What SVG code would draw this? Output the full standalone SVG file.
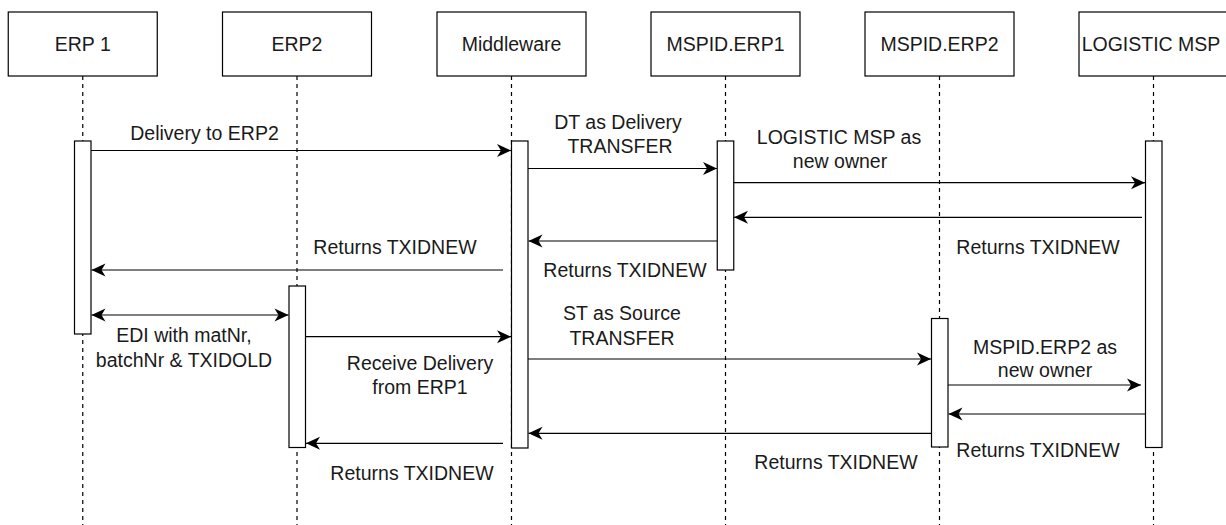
<svg xmlns="http://www.w3.org/2000/svg" width="1226" height="525" viewBox="0 0 1226 525">
<style>
.box{fill:#fff;stroke:#000;stroke-width:1.2}
.life{stroke:#000;stroke-width:1.2;stroke-dasharray:4 4;fill:none}
.act{fill:#fff;stroke:#000;stroke-width:1.2}
.msg{stroke:#000;stroke-width:1.2;fill:none}
.arr{marker-end:url(#ah)}
.both{marker-start:url(#ahs);marker-end:url(#ah)}
text{font-family:"Liberation Sans",Arial,sans-serif;font-size:19.5px;fill:#1a1a1a;text-anchor:middle}
</style>
<defs>
<marker id="ah" markerUnits="userSpaceOnUse" viewBox="-15 -7 16 14" refX="0" refY="0" markerWidth="16" markerHeight="14" orient="auto">
<path d="M0,0 L-14,-6.5 L-10,0 L-14,6.5 Z" fill="#000"/>
</marker>
<marker id="ahs" markerUnits="userSpaceOnUse" viewBox="-1 -7 16 14" refX="0" refY="0" markerWidth="16" markerHeight="14" orient="auto">
<path d="M0,0 L14,-6.5 L10,0 L14,6.5 Z" fill="#000"/>
</marker>
</defs>

<g id="lifelines">
<line class="life" x1="82.75" y1="76" x2="82.75" y2="525"/>
<line class="life" x1="297" y1="76" x2="297" y2="525"/>
<line class="life" x1="511.5" y1="76" x2="511.5" y2="525"/>
<line class="life" x1="725.5" y1="76" x2="725.5" y2="525"/>
<line class="life" x1="939.5" y1="76" x2="939.5" y2="525"/>
<line class="life" x1="1153.5" y1="76" x2="1153.5" y2="525"/>
</g>

<g id="erp1">
<rect class="box" x="8.25" y="12" width="149" height="64"/>
<text x="82.75" y="51">ERP 1</text>
<rect class="act" x="74.5" y="141" width="16.5" height="193"/>
</g>
<g id="erp2">
<rect class="box" x="222.5" y="12" width="149" height="64"/>
<text x="297" y="51">ERP2</text>
<rect class="act" x="289" y="286" width="16.5" height="161.5"/>
</g>
<g id="middleware">
<rect class="box" x="437" y="12" width="149" height="64"/>
<text x="511.5" y="51">Middleware</text>
<rect class="act" x="511.5" y="141" width="16.5" height="307"/>
</g>
<g id="mspid-erp1">
<rect class="box" x="651" y="12" width="149" height="64"/>
<text x="725.5" y="51">MSPID.ERP1</text>
<rect class="act" x="717.25" y="141" width="16.5" height="129"/>
</g>
<g id="mspid-erp2">
<rect class="box" x="865" y="12" width="149" height="64"/>
<text x="939.5" y="51">MSPID.ERP2</text>
<rect class="act" x="931.5" y="318.5" width="16.5" height="128.5"/>
</g>
<g id="logistic-msp">
<rect class="box" x="1079" y="12" width="149" height="64"/>
<text x="1151" y="51">LOGISTIC MSP</text>
<rect class="act" x="1145.5" y="141" width="16.5" height="306.5"/>
</g>

<g id="connectors">
<line class="msg arr" x1="91" y1="150.5" x2="511" y2="150.5"/>
<line class="msg arr" x1="528" y1="168.5" x2="717" y2="168.5"/>
<line class="msg arr" x1="733.75" y1="182.7" x2="1145" y2="182.7"/>
<line class="msg arr" x1="1142" y1="217.3" x2="734" y2="217.3"/>
<line class="msg arr" x1="717" y1="241" x2="528.5" y2="241"/>
<line class="msg arr" x1="503" y1="270" x2="91.5" y2="270"/>
<line class="msg both" x1="91.5" y1="315" x2="288.5" y2="315"/>
<line class="msg arr" x1="305.5" y1="336.7" x2="511" y2="336.7"/>
<line class="msg arr" x1="528" y1="359" x2="931" y2="359"/>
<line class="msg arr" x1="948" y1="385" x2="1141" y2="385"/>
<line class="msg arr" x1="1145.5" y1="414" x2="948.5" y2="414"/>
<line class="msg arr" x1="931.5" y1="433.3" x2="528.5" y2="433.3"/>
<line class="msg arr" x1="503" y1="443.3" x2="306" y2="443.3"/>
</g>

<g id="labels">
<text x="204.5" y="140">Delivery to ERP2</text>
<text x="618" y="129">DT as Delivery</text>
<text x="620" y="153">TRANSFER</text>
<text x="839" y="143.7">LOGISTIC MSP as</text>
<text x="840" y="167.7">new owner</text>
<text x="1038" y="253.7">Returns TXIDNEW</text>
<text x="395" y="253.7">Returns TXIDNEW</text>
<text x="625" y="277">Returns TXIDNEW</text>
<text x="184" y="342">EDI with matNr,</text>
<text x="184" y="367">batchNr &amp; TXIDOLD</text>
<text x="420" y="370.3">Receive Delivery</text>
<text x="420" y="393.7">from ERP1</text>
<text x="622" y="320">ST as Source</text>
<text x="622" y="345">TRANSFER</text>
<text x="1045" y="353.7">MSPID.ERP2 as</text>
<text x="1045" y="377">new owner</text>
<text x="1038" y="457">Returns TXIDNEW</text>
<text x="836" y="468.7">Returns TXIDNEW</text>
<text x="412" y="480.3">Returns TXIDNEW</text>
</g>
</svg>
